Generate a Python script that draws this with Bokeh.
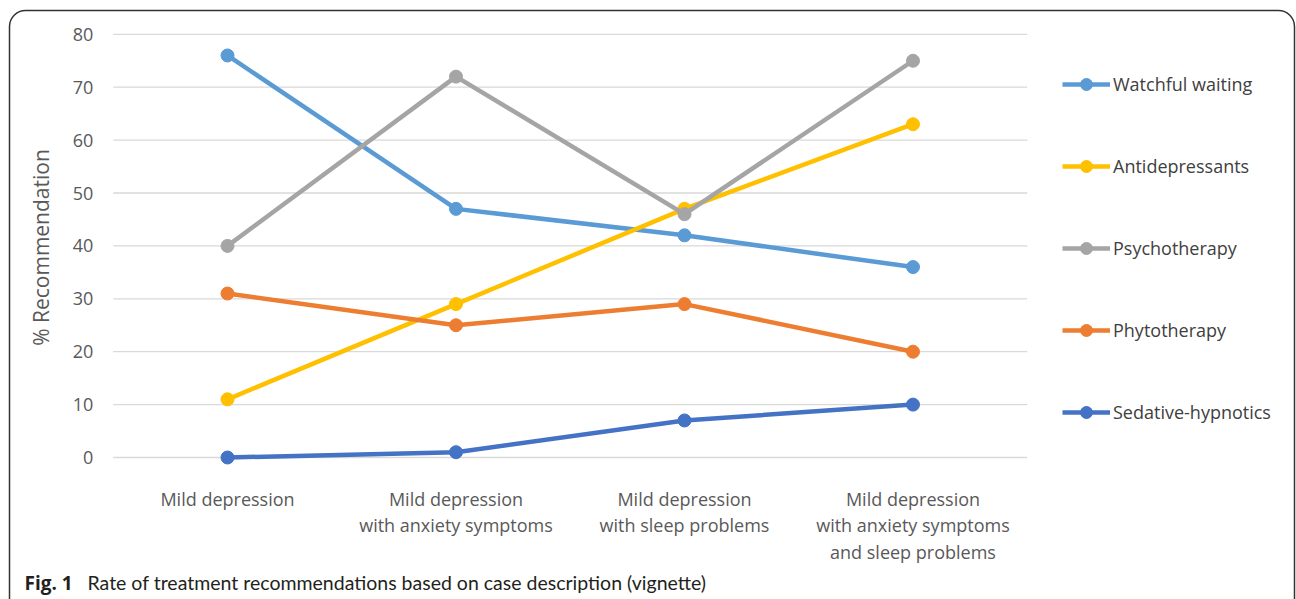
import math
from bokeh.plotting import figure
from bokeh.models import Range1d, Legend, LegendItem, Label, BoxAnnotation
from bokeh.core.properties import value
from bokeh.embed import file_html
from bokeh.resources import INLINE

categories = [
    "Mild depression",
    "Mild depression\nwith anxiety symptoms",
    "Mild depression\nwith sleep problems",
    "Mild depression\nwith anxiety symptoms\nand sleep problems",
]
series_names = ["Watchful waiting", "Antidepressants", "Psychotherapy",
                "Phytotherapy", "Sedative-hypnotics"]
watchful_waiting = [76, 47, 42, 36]
antidepressants = [11, 29, 47, 63]
psychotherapy = [40, 72, 46, 75]
phytotherapy = [31, 25, 29, 20]
sedative_hypnotics = [0, 1, 7, 10]
y_ticks = [0, 10, 20, 30, 40, 50, 60, 70, 80]
y_tick_labels = [str(t) for t in y_ticks]
y_axis_title = "% Recommendation"
caption_bold = "Fig. 1"
caption_text = "Rate of treatment recommendations based on case description (vignette)"

series_values = [watchful_waiting, antidepressants, psychotherapy,
                 phytotherapy, sedative_hypnotics]
colors = ["#5B9BD5", "#FFC000", "#A5A5A5", "#ED7D31", "#4472C4"]

W, H = 1296, 599
FONT = "Open Sans"
x_pos = list(range(len(categories)))
band_left, band_right = x_pos[0] - 0.5, x_pos[-1] + 0.5

# scale: category spacing 228.5 px, 10 % = 52.9 px; first category at px 227, zero at px 457
px_per_cat = 228.5
px_per_unit = 5.29
x_start = -227 / px_per_cat
x_end = (W - 227) / px_per_cat
y_end = 457 / px_per_unit
y_start = -(H - 457) / px_per_unit

p = figure(width=W, height=H, x_range=Range1d(x_start, x_end),
           y_range=Range1d(y_start, y_end), output_backend="svg",
           toolbar_location=None, x_axis_location=None, y_axis_location=None,
           min_border=0)
p.outline_line_color = None
p.grid.visible = False
p.background_fill_color = "white"
p.border_fill_color = "white"

# gridlines
p.segment(x0=[band_left] * len(y_ticks), x1=[band_right] * len(y_ticks),
          y0=y_ticks, y1=y_ticks, line_color="#D9D9D9", line_width=1.3)

# y tick labels
p.text(x=[band_left] * len(y_ticks), y=y_ticks, text=y_tick_labels,
       x_offset=-20, text_align="right", text_baseline="middle",
       text_font=value(FONT), text_font_size="18px", text_color="#595959")

# category labels
p.text(x=x_pos, y=[0] * len(x_pos), text=categories, y_offset=29,
       text_align="center", text_baseline="top", text_line_height=1.12,
       text_font=value(FONT), text_font_size="18px", text_color="#595959")

items = []
for name, vals, col in zip(series_names, series_values, colors):
    r1 = p.line(x_pos, vals, line_color=col, line_width=4.5)
    r2 = p.scatter(x_pos, vals, size=13, fill_color=col, line_color=col)
    items.append(LegendItem(label=name, renderers=[r1, r2]))

legend = Legend(items=items, location=(1062, H - 427), orientation="vertical",
                glyph_width=48, glyph_height=30, label_height=30,
                label_standoff=3, spacing=52, padding=0, margin=0,
                border_line_color=None, background_fill_alpha=0,
                label_text_font=FONT, label_text_font_size="18px",
                label_text_color="#404040")
p.add_layout(legend)

# y axis title
p.add_layout(Label(x=40, y=H - 247, x_units="screen", y_units="screen",
                   text=y_axis_title, angle=math.pi / 2, text_align="center",
                   text_baseline="middle", text_font=FONT, text_font_size="21px",
                   text_color="#595959"))

# frame box with rounded top corners
box = BoxAnnotation(left=9, right=1294, top=H - 10, bottom=-60,
                    left_units="screen", right_units="screen",
                    top_units="screen", bottom_units="screen",
                    fill_alpha=0, line_color="#333333", line_alpha=1.0,
                    line_width=1.5, border_radius=16)
p.add_layout(box)

p.add_layout(Label(x=24, y=H - 582, x_units="screen", y_units="screen",
                   text=caption_bold, text_font=FONT, text_font_style="bold",
                   text_font_size="19px", text_baseline="middle", text_color="#231F20"))
p.add_layout(Label(x=87, y=H - 582, x_units="screen", y_units="screen",
                   text=caption_text, text_font="Lato", text_font_size="19.5px",
                   text_baseline="middle", text_color="#231F20"))

open("out.html", "w").write(file_html(p, INLINE))
